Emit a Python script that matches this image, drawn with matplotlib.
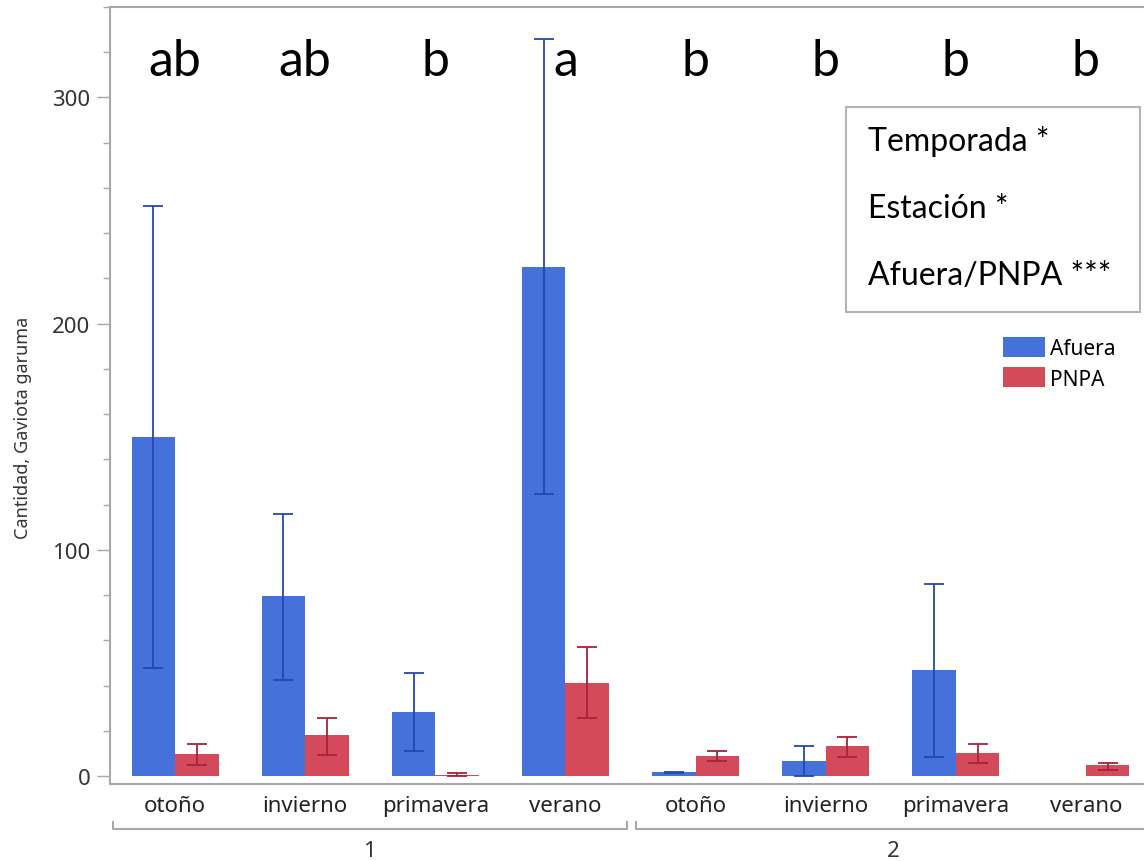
import matplotlib.pyplot as plt
import matplotlib.transforms as mtransforms
from matplotlib.patches import Rectangle
import numpy as np

# data
seasons = ['otoño', 'invierno', 'primavera', 'verano', 'otoño', 'invierno', 'primavera', 'verano']
groups = ['1', '2']
letters = ['ab', 'ab', 'b', 'a', 'b', 'b', 'b', 'b']

afuera = [150, 79.5, 28.4, 225, 1.6, 6.8, 46.8, 0]
afuera_hi = [252, 116, 45.5, 326, 1.9, 13.3, 85, 0]
afuera_lo = [48, 42.6, 11.2, 124.6, 1.3, 0, 8.6, 0]

pnpa = [9.7, 18.1, 0.5, 41.1, 9.0, 13.4, 10.2, 4.9]
pnpa_hi = [14.1, 25.6, 1.2, 56.9, 11.2, 17.1, 14.1, 5.7]
pnpa_lo = [4.9, 9.4, 0, 25.6, 6.5, 8.6, 5.7, 2.8]

stats = ['Temporada *', 'Estación *', 'Afuera/PNPA ***']

blue = '#4571db'
red = '#d44a5a'
blue_err = '#2446b0'
red_err = '#a82238'
grey = '#a8a8a8'

plt.rcParams['font.family'] = ['Noto Sans', 'DejaVu Sans']

fig = plt.figure(figsize=(11.44, 8.62), dpi=100)
ax = fig.add_axes([110 / 1144, 77 / 862, 1041 / 1144, 777 / 862])

x = np.arange(len(seasons))
w = 0.334

ax.bar(x - w / 2, afuera, w, color=blue, label='Afuera', zorder=2)
ax.bar(x + w / 2, pnpa, w, color=red, label='PNPA', zorder=2)

a_err = [np.array(afuera) - np.array(afuera_lo), np.array(afuera_hi) - np.array(afuera)]
p_err = [np.array(pnpa) - np.array(pnpa_lo), np.array(pnpa_hi) - np.array(pnpa)]
mask = np.array(afuera) > 0
ax.errorbar((x - w / 2)[mask], np.array(afuera)[mask],
            yerr=[a_err[0][mask], a_err[1][mask]], fmt='none',
            ecolor=blue_err, elinewidth=1.3, capsize=7.5, capthick=1.3, zorder=3)
ax.errorbar(x + w / 2, pnpa, yerr=p_err, fmt='none',
            ecolor=red_err, elinewidth=1.3, capsize=7.5, capthick=1.3, zorder=3)

ax.set_xlim(-0.5, 7.5)
ax.set_ylim(-3.5, 340)

ax.set_yticks([0, 100, 200, 300])
ax.set_yticks(np.arange(0, 341, 20), minor=True)
ax.tick_params(axis='y', which='major', length=9.5, width=1, color=grey,
               labelsize=16, labelcolor='#333333', pad=4.5)
ax.tick_params(axis='y', which='minor', length=5, width=1, color=grey)

ax.set_xticks(x)
ax.set_xticklabels(seasons)
ax.tick_params(axis='x', length=0, labelsize=16, labelcolor='#222222', pad=8)

for s in ['left', 'top', 'bottom']:
    ax.spines[s].set_color(grey)
    ax.spines[s].set_linewidth(1.5)
ax.spines['right'].set_visible(False)

ax.set_ylabel('Cantidad, Gaviota garuma', fontsize=13, color='#333333')
ax.yaxis.set_label_coords(-0.075, 0.459)

# significance letters
for xi, lt in zip(x, letters):
    ax.text(xi, 310, lt, ha='center', va='baseline', fontsize=36,
            family=['Lato', 'DejaVu Sans'], color='black')

# group brackets under the axis
trans = mtransforms.blended_transform_factory(ax.transData, ax.transAxes)
spans = [(-0.476, 3.47), (3.54, 7.6)]
y_br = -45 / 777
for (a, b), g in zip(spans, groups):
    ax.plot([a, a, b, b], [y_br + 0.009, y_br, y_br, y_br + 0.009], transform=trans,
            color=grey, lw=1.5, clip_on=False)
    mid = (a + b) / 2 if g == '1' else (3.54 + 7.5) / 2
    ax.text(mid, -67 / 777, g, transform=trans, ha='center', va='center',
            fontsize=16, color='#333333')

# legend
ax.legend(loc='upper left', bbox_to_anchor=(1003 / 1144, 1 - 338 / 862),
          bbox_transform=fig.transFigure, frameon=False, fontsize=15,
          handlelength=2.0, handleheight=1.1, handletextpad=0.25,
          labelspacing=0.4, borderpad=0, borderaxespad=0)

# box with the test results
fig.patches.append(Rectangle((846 / 1144, 1 - 313 / 862), 294 / 1144, 205 / 862,
                             transform=fig.transFigure, fill=False,
                             edgecolor='#b4b4b4', lw=1.5))
for s, yb in zip(stats, [151, 218, 285]):
    fig.text(868 / 1144, 1 - yb / 862, s, ha='left', va='baseline',
             fontsize=23, family=['Lato', 'DejaVu Sans'], color='black')

fig.savefig('out.png', dpi=100)
